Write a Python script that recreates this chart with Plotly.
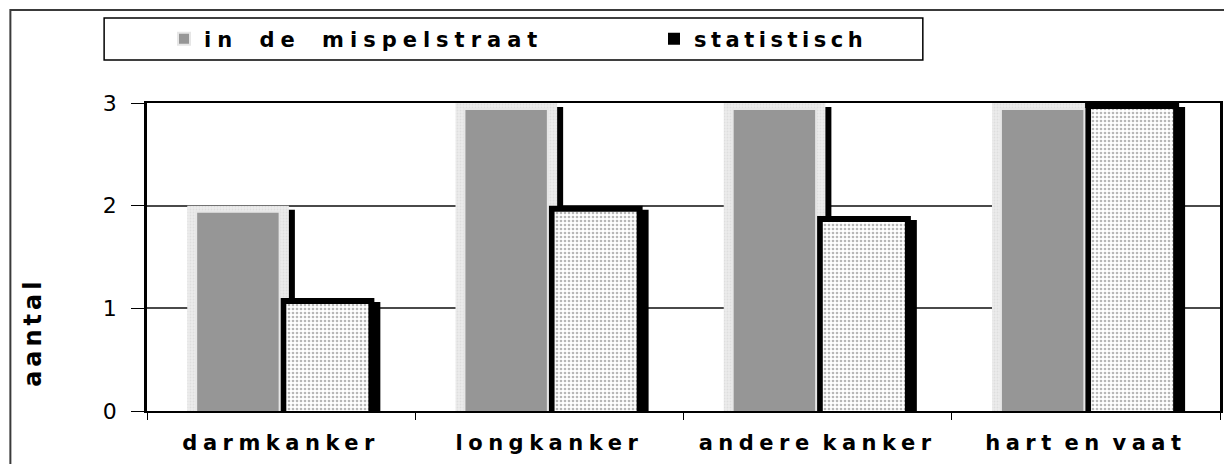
import plotly.graph_objects as go

# ---- data ----
categories = ["darmkanker", "longkanker", "andere kanker", "hart en vaat"]
series_names = ["in de mispelstraat", "statistisch"]
mispel = [2, 3, 3, 3]
statistisch = [1.1, 2.0, 1.9, 3.0]
y_ticks = [0, 1, 2, 3]
y_title = "aantal"

# ---- geometry (the page body adds an 8px offset) ----
OFF = 8
W, H = 1224, 456
L, R, T, B = 139, 9, 95, 53
plot_w = W - L - R
plot_h = H - T - B
cat_px = plot_w / len(categories)
unit_px = plot_h / 3.0
sx = 6 / cat_px      # shadow shift right
sy = 4 / unit_px     # shadow shift down
iy = 6 / unit_px     # inner fill shift down (border inside the bar)

FONT = "DejaVu Sans"

def spaced(t, ls, ws=0):
    return f'<span style="letter-spacing:{ls}px;word-spacing:{ws}px">{t}</span>'

def px_x(p):   # screen px -> paper x
    return (p - OFF - L) / plot_w

def px_y(p):   # screen px -> paper y
    return (H - B - (p - OFF)) / plot_h

# bar placement (in category units)
m_off, m_w = -0.350, 0.379                            # light outer bar of mispel
g_off, g_w = -0.3167, 0.3111                          # grey inner bar
s_off, s_w = -0.003, 0.3506                           # statistisch outer (black border)
si_off, si_w = s_off + 6 / cat_px, s_w - 12 / cat_px  # statistisch inner (dotted)

fig = go.Figure()

# shadows on base axes (x/y, shifted ranges, hidden)
fig.add_trace(go.Bar(x=categories, y=mispel, offset=m_off, width=m_w,
                     marker=dict(color="black", line=dict(width=0)),
                     xaxis="x", yaxis="y", showlegend=False, hoverinfo="skip"))
fig.add_trace(go.Bar(x=categories, y=statistisch, offset=s_off, width=s_w,
                     marker=dict(color="black", line=dict(width=0)), cliponaxis=False,
                     xaxis="x", yaxis="y", showlegend=False, hoverinfo="skip"))

# outer bars on the visible axes x2/y2
fig.add_trace(go.Bar(x=categories, y=mispel, offset=m_off, width=m_w,
                     marker=dict(color="#ebebeb", line=dict(width=0),
                                 pattern=dict(shape=".", fgcolor="#d2d2d2", size=3,
                                              solidity=0.3, fillmode="overlay")),
                     xaxis="x2", yaxis="y2", showlegend=False, hoverinfo="skip"))
fig.add_trace(go.Bar(x=categories, y=statistisch, offset=s_off, width=s_w,
                     name=spaced(series_names[1], 4.5),
                     marker=dict(color="black", line=dict(color="black", width=0)),
                     xaxis="x2", yaxis="y2", legend="legend2"))

# inner fills on x3/y3 (shifted down a few px)
fig.add_trace(go.Bar(x=categories, y=mispel, offset=g_off, width=g_w,
                     name=spaced(series_names[0], 6, 8),
                     marker=dict(color="#969696", line=dict(color="#e6e6e6", width=2)),
                     xaxis="x3", yaxis="y3", legend="legend"))
fig.add_trace(go.Bar(x=categories, y=statistisch, offset=si_off, width=si_w,
                     marker=dict(color="white", line=dict(width=0),
                                 pattern=dict(shape=".", fgcolor="#707070", size=4,
                                              solidity=0.35, fillmode="overlay")),
                     xaxis="x3", yaxis="y3", showlegend=False, hoverinfo="skip"))

cat_axis_common = dict(type="category", categoryorder="array", categoryarray=categories)

fig.update_layout(
    width=W, height=H,
    margin=dict(l=L, r=R, t=T, b=B),
    paper_bgcolor="white", plot_bgcolor="white",
    barmode="overlay",
    showlegend=True,
    font=dict(family=FONT, color="black"),
    xaxis=dict(**cat_axis_common, range=[-0.5 - sx, 3.5 - sx], visible=False),
    yaxis=dict(range=[sy, 3 + sy], visible=False),
    xaxis2=dict(**cat_axis_common, overlaying="x", range=[-0.5, 3.5],
                showline=True, linecolor="black", linewidth=2, mirror=True,
                ticks="outside", ticklen=7, tickcolor="black", tickwidth=1,
                tickson="boundaries", showgrid=False,
                tickmode="array", tickvals=categories,
                ticktext=[spaced(c, 5.5, -5) for c in categories],
                tickfont=dict(family=FONT, size=21, weight="bold", color="black"),
                ticklabelstandoff=12),
    yaxis2=dict(overlaying="y", range=[0, 3], tickmode="array", tickvals=y_ticks,
                ticks="outside", ticklen=13, tickcolor="black", tickwidth=1,
                showgrid=True, gridcolor="#4a4a4a", gridwidth=1.5,
                showline=True, linecolor="black", linewidth=2.5, mirror=True,
                zeroline=False,
                tickfont=dict(family=FONT, size=22, color="black"),
                ticklabelstandoff=10),
    xaxis3=dict(**cat_axis_common, overlaying="x", range=[-0.5, 3.5], visible=False),
    yaxis3=dict(overlaying="y", range=[iy, 3 + iy], visible=False),
    legend=dict(xref="container", yref="container", x=156 / W, y=1 - 31 / H,
                xanchor="left", yanchor="middle", orientation="h",
                bgcolor="rgba(0,0,0,0)", borderwidth=0,
                font=dict(family=FONT, size=21, weight="bold", color="black")),
    legend2=dict(xref="container", yref="container", x=646 / W, y=1 - 31 / H,
                 xanchor="left", yanchor="middle", orientation="h",
                 bgcolor="rgba(0,0,0,0)", borderwidth=0,
                 font=dict(family=FONT, size=21, weight="bold", color="black")),
)

# outer chart frame and legend box
fig.add_shape(type="rect", xref="paper", yref="paper",
              x0=px_x(10), x1=px_x(1260), y0=px_y(490), y1=px_y(10),
              line=dict(color="#3a3a3a", width=2), fillcolor="rgba(0,0,0,0)", layer="below")
fig.add_shape(type="rect", xref="paper", yref="paper",
              x0=px_x(104), x1=px_x(925), y0=px_y(60), y1=px_y(18),
              line=dict(color="black", width=1.5), fillcolor="white", layer="below")

fig.add_annotation(text=spaced(y_title, 4), xref="paper", yref="paper",
                   x=px_x(16), y=px_y(389), textangle=-90, showarrow=False,
                   font=dict(family=FONT, size=24, weight="bold", color="black"))

fig.write_html("out.html")
